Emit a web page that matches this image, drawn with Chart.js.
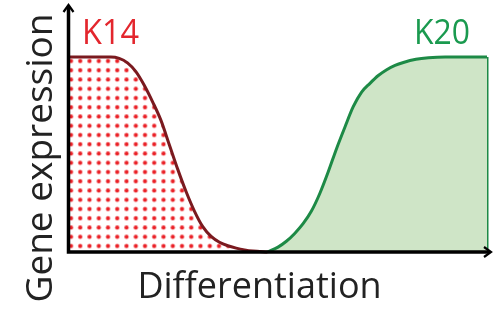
<!DOCTYPE html>
<html>
<head>
<meta charset="utf-8">
<script src="https://cdn.jsdelivr.net/npm/chart.js@4.4.0/dist/chart.umd.min.js"></script>
<style>
  html, body { margin: 0; padding: 0; background: #fff; }
  canvas { display: block; }
</style>
</head>
<body>
<canvas id="chart" width="495" height="312"></canvas>
<script>
// differentiation stage (0..100) and relative expression (0..1)
const k14X = [0, 10, 12, 14, 16, 18, 20, 22, 24, 26, 28, 30, 32, 34, 36, 38, 40, 42, 44, 47.5];
const k14Y = [1, 1, 0.993, 0.97, 0.925, 0.855, 0.77, 0.675, 0.55, 0.425, 0.31, 0.21, 0.13, 0.08, 0.05, 0.032, 0.02, 0.011, 0.005, 0];

const k20X = [47.5, 50, 52, 54, 56, 58, 60, 62, 64, 66, 68, 70, 72, 74, 76, 78, 80, 83, 86, 90, 100];
const k20Y = [0, 0.025, 0.055, 0.095, 0.145, 0.21, 0.3, 0.41, 0.53, 0.64, 0.745, 0.82, 0.865, 0.905, 0.935, 0.957, 0.972, 0.988, 0.996, 1, 1];

const seriesNames = ['K14', 'K20'];
const xTitle = 'Differentiation';
const yTitle = 'Gene expression';

const toPoints = (xs, ys) => xs.map((x, i) => ({ x: x, y: ys[i] }));

// red dotted fill for K14
function dotPattern(ctx) {
  const tile = document.createElement('canvas');
  tile.width = 37;
  tile.height = 37;
  const t = tile.getContext('2d');
  t.fillStyle = '#ea2127';
  for (let i = 0; i < 4; i++) {
    for (let j = 0; j < 4; j++) {
      t.beginPath();
      t.arc(4.625 + i * 9.25, 4.625 + j * 9.25, 2.1, 0, Math.PI * 2);
      t.fill();
    }
  }
  const p = ctx.createPattern(tile, 'repeat');
  p.setTransform(new DOMMatrix().translate(71 - 4.625, 61 - 4.625));
  return p;
}

const canvas = document.getElementById('chart');
const ctx = canvas.getContext('2d');

// axes with arrows and text labels
const decor = {
  id: 'decor',
  afterDatasetsDraw(chart) {
    const { ctx, chartArea } = chart;
    const left = chartArea.left - 0.5;
    const bottom = chartArea.bottom;
    ctx.save();
    ctx.strokeStyle = '#000';
    ctx.lineCap = 'butt';
    ctx.lineWidth = 3.5;
    ctx.beginPath();
    ctx.moveTo(left, bottom + 1.75);
    ctx.lineTo(left, 7);
    ctx.moveTo(left - 1.75, bottom);
    ctx.lineTo(489, bottom);
    ctx.stroke();

    ctx.lineWidth = 2.2;
    ctx.lineJoin = 'miter';
    ctx.beginPath();
    ctx.moveTo(left - 5, 12);
    ctx.lineTo(left, 5);
    ctx.lineTo(left + 5, 12);
    ctx.moveTo(484, bottom - 5);
    ctx.lineTo(491, bottom);
    ctx.lineTo(484, bottom + 5);
    ctx.stroke();
    ctx.restore();
  },
  afterDraw(chart) {
    const { ctx } = chart;
    ctx.save();
    ctx.textBaseline = 'alphabetic';
    ctx.font = '34px "Open Sans"';
    ctx.fillStyle = '#e3262d';
    ctx.textAlign = 'left';
    ctx.fillText(seriesNames[0], 82, 44, 57);
    ctx.fillStyle = '#1a9a4f';
    ctx.fillText(seriesNames[1], 414, 44, 56);

    ctx.fillStyle = '#222';
    ctx.font = '36px "Open Sans"';
    ctx.textAlign = 'center';
    ctx.fillText(xTitle, 259.5, 298, 246);

    ctx.translate(52, 158);
    ctx.rotate(-Math.PI / 2);
    ctx.font = '37px "Open Sans"';
    ctx.fillText(yTitle, 0, 0, 294);
    ctx.restore();
  }
};

new Chart(ctx, {
  type: 'line',
  data: {
    datasets: [
      {
        label: seriesNames[1],
        data: toPoints(k20X, k20Y),
        borderColor: '#1d8a46',
        backgroundColor: '#cfe5c7',
        borderWidth: 3,
        fill: 'origin',
        cubicInterpolationMode: 'monotone',
        pointRadius: 0,
        clip: false
      },
      {
        label: seriesNames[1] + ' edge',
        data: [{ x: k20X[k20X.length - 1], y: k20Y[k20Y.length - 1] }, { x: k20X[k20X.length - 1], y: 0 }],
        borderColor: '#1d8a46',
        borderWidth: 3,
        fill: false,
        pointRadius: 0,
        clip: false
      },
      {
        label: seriesNames[0],
        data: toPoints(k14X, k14Y),
        borderColor: '#7a1a1f',
        backgroundColor: dotPattern(ctx),
        borderWidth: 3,
        fill: 'origin',
        cubicInterpolationMode: 'monotone',
        pointRadius: 0,
        clip: false
      }
    ]
  },
  options: {
    responsive: false,
    animation: false,
    layout: { padding: { left: 69, right: 8, top: 57, bottom: 60 } },
    plugins: {
      legend: { display: false },
      tooltip: { enabled: false }
    },
    scales: {
      x: { type: 'linear', min: 0, max: 100, display: false },
      y: { min: 0, max: 1, display: false }
    }
  },
  plugins: [decor]
});
</script>
</body>
</html>
